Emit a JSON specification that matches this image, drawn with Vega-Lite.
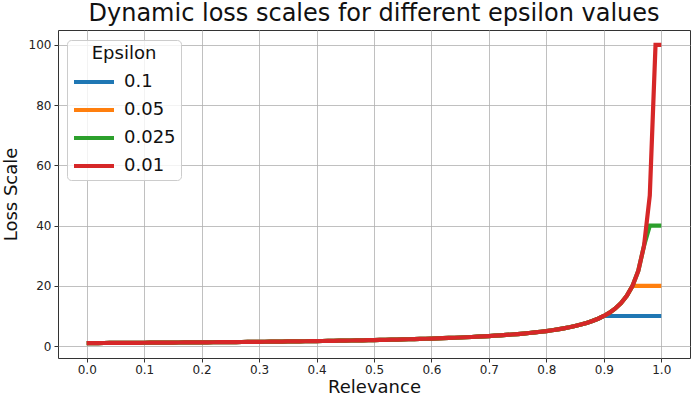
{
  "$schema": "https://vega.github.io/schema/vega-lite/v6.json",
  "width": 632,
  "height": 328,
  "autosize": {"type": "none"},
  "padding": {"left": 58, "top": 30, "right": 4, "bottom": 38},
  "background": "white",
  "config": {
    "font": "DejaVu Sans",
    "view": {"stroke": "#333333", "strokeWidth": 1}
  },
  "title": {
    "text": "Dynamic loss scales for different epsilon values",
    "fontSize": 24,
    "fontWeight": "normal",
    "font": "DejaVu Sans",
    "color": "#111111",
    "anchor": "middle",
    "offset": 4
  },
  "data": {
    "values": [
      {"x":0.00,"a":1,"b":1,"c":1,"d":1},
      {"x":0.01,"a":1.0101,"b":1.0101,"c":1.0101,"d":1.0101},
      {"x":0.02,"a":1.0204,"b":1.0204,"c":1.0204,"d":1.0204},
      {"x":0.03,"a":1.0309,"b":1.0309,"c":1.0309,"d":1.0309},
      {"x":0.04,"a":1.0417,"b":1.0417,"c":1.0417,"d":1.0417},
      {"x":0.05,"a":1.0526,"b":1.0526,"c":1.0526,"d":1.0526},
      {"x":0.06,"a":1.0638,"b":1.0638,"c":1.0638,"d":1.0638},
      {"x":0.07,"a":1.0753,"b":1.0753,"c":1.0753,"d":1.0753},
      {"x":0.08,"a":1.087,"b":1.087,"c":1.087,"d":1.087},
      {"x":0.09,"a":1.0989,"b":1.0989,"c":1.0989,"d":1.0989},
      {"x":0.10,"a":1.1111,"b":1.1111,"c":1.1111,"d":1.1111},
      {"x":0.11,"a":1.1236,"b":1.1236,"c":1.1236,"d":1.1236},
      {"x":0.12,"a":1.1364,"b":1.1364,"c":1.1364,"d":1.1364},
      {"x":0.13,"a":1.1494,"b":1.1494,"c":1.1494,"d":1.1494},
      {"x":0.14,"a":1.1628,"b":1.1628,"c":1.1628,"d":1.1628},
      {"x":0.15,"a":1.1765,"b":1.1765,"c":1.1765,"d":1.1765},
      {"x":0.16,"a":1.1905,"b":1.1905,"c":1.1905,"d":1.1905},
      {"x":0.17,"a":1.2048,"b":1.2048,"c":1.2048,"d":1.2048},
      {"x":0.18,"a":1.2195,"b":1.2195,"c":1.2195,"d":1.2195},
      {"x":0.19,"a":1.2346,"b":1.2346,"c":1.2346,"d":1.2346},
      {"x":0.20,"a":1.25,"b":1.25,"c":1.25,"d":1.25},
      {"x":0.21,"a":1.2658,"b":1.2658,"c":1.2658,"d":1.2658},
      {"x":0.22,"a":1.2821,"b":1.2821,"c":1.2821,"d":1.2821},
      {"x":0.23,"a":1.2987,"b":1.2987,"c":1.2987,"d":1.2987},
      {"x":0.24,"a":1.3158,"b":1.3158,"c":1.3158,"d":1.3158},
      {"x":0.25,"a":1.3333,"b":1.3333,"c":1.3333,"d":1.3333},
      {"x":0.26,"a":1.3514,"b":1.3514,"c":1.3514,"d":1.3514},
      {"x":0.27,"a":1.3699,"b":1.3699,"c":1.3699,"d":1.3699},
      {"x":0.28,"a":1.3889,"b":1.3889,"c":1.3889,"d":1.3889},
      {"x":0.29,"a":1.4085,"b":1.4085,"c":1.4085,"d":1.4085},
      {"x":0.30,"a":1.4286,"b":1.4286,"c":1.4286,"d":1.4286},
      {"x":0.31,"a":1.4493,"b":1.4493,"c":1.4493,"d":1.4493},
      {"x":0.32,"a":1.4706,"b":1.4706,"c":1.4706,"d":1.4706},
      {"x":0.33,"a":1.4925,"b":1.4925,"c":1.4925,"d":1.4925},
      {"x":0.34,"a":1.5152,"b":1.5152,"c":1.5152,"d":1.5152},
      {"x":0.35,"a":1.5385,"b":1.5385,"c":1.5385,"d":1.5385},
      {"x":0.36,"a":1.5625,"b":1.5625,"c":1.5625,"d":1.5625},
      {"x":0.37,"a":1.5873,"b":1.5873,"c":1.5873,"d":1.5873},
      {"x":0.38,"a":1.6129,"b":1.6129,"c":1.6129,"d":1.6129},
      {"x":0.39,"a":1.6393,"b":1.6393,"c":1.6393,"d":1.6393},
      {"x":0.40,"a":1.6667,"b":1.6667,"c":1.6667,"d":1.6667},
      {"x":0.41,"a":1.6949,"b":1.6949,"c":1.6949,"d":1.6949},
      {"x":0.42,"a":1.7241,"b":1.7241,"c":1.7241,"d":1.7241},
      {"x":0.43,"a":1.7544,"b":1.7544,"c":1.7544,"d":1.7544},
      {"x":0.44,"a":1.7857,"b":1.7857,"c":1.7857,"d":1.7857},
      {"x":0.45,"a":1.8182,"b":1.8182,"c":1.8182,"d":1.8182},
      {"x":0.46,"a":1.8519,"b":1.8519,"c":1.8519,"d":1.8519},
      {"x":0.47,"a":1.8868,"b":1.8868,"c":1.8868,"d":1.8868},
      {"x":0.48,"a":1.9231,"b":1.9231,"c":1.9231,"d":1.9231},
      {"x":0.49,"a":1.9608,"b":1.9608,"c":1.9608,"d":1.9608},
      {"x":0.50,"a":2,"b":2,"c":2,"d":2},
      {"x":0.51,"a":2.0408,"b":2.0408,"c":2.0408,"d":2.0408},
      {"x":0.52,"a":2.0833,"b":2.0833,"c":2.0833,"d":2.0833},
      {"x":0.53,"a":2.1277,"b":2.1277,"c":2.1277,"d":2.1277},
      {"x":0.54,"a":2.1739,"b":2.1739,"c":2.1739,"d":2.1739},
      {"x":0.55,"a":2.2222,"b":2.2222,"c":2.2222,"d":2.2222},
      {"x":0.56,"a":2.2727,"b":2.2727,"c":2.2727,"d":2.2727},
      {"x":0.57,"a":2.3256,"b":2.3256,"c":2.3256,"d":2.3256},
      {"x":0.58,"a":2.381,"b":2.381,"c":2.381,"d":2.381},
      {"x":0.59,"a":2.439,"b":2.439,"c":2.439,"d":2.439},
      {"x":0.60,"a":2.5,"b":2.5,"c":2.5,"d":2.5},
      {"x":0.61,"a":2.5641,"b":2.5641,"c":2.5641,"d":2.5641},
      {"x":0.62,"a":2.6316,"b":2.6316,"c":2.6316,"d":2.6316},
      {"x":0.63,"a":2.7027,"b":2.7027,"c":2.7027,"d":2.7027},
      {"x":0.64,"a":2.7778,"b":2.7778,"c":2.7778,"d":2.7778},
      {"x":0.65,"a":2.8571,"b":2.8571,"c":2.8571,"d":2.8571},
      {"x":0.66,"a":2.9412,"b":2.9412,"c":2.9412,"d":2.9412},
      {"x":0.67,"a":3.0303,"b":3.0303,"c":3.0303,"d":3.0303},
      {"x":0.68,"a":3.125,"b":3.125,"c":3.125,"d":3.125},
      {"x":0.69,"a":3.2258,"b":3.2258,"c":3.2258,"d":3.2258},
      {"x":0.70,"a":3.3333,"b":3.3333,"c":3.3333,"d":3.3333},
      {"x":0.71,"a":3.4483,"b":3.4483,"c":3.4483,"d":3.4483},
      {"x":0.72,"a":3.5714,"b":3.5714,"c":3.5714,"d":3.5714},
      {"x":0.73,"a":3.7037,"b":3.7037,"c":3.7037,"d":3.7037},
      {"x":0.74,"a":3.8462,"b":3.8462,"c":3.8462,"d":3.8462},
      {"x":0.75,"a":4,"b":4,"c":4,"d":4},
      {"x":0.76,"a":4.1667,"b":4.1667,"c":4.1667,"d":4.1667},
      {"x":0.77,"a":4.3478,"b":4.3478,"c":4.3478,"d":4.3478},
      {"x":0.78,"a":4.5455,"b":4.5455,"c":4.5455,"d":4.5455},
      {"x":0.79,"a":4.7619,"b":4.7619,"c":4.7619,"d":4.7619},
      {"x":0.80,"a":5,"b":5,"c":5,"d":5},
      {"x":0.81,"a":5.2632,"b":5.2632,"c":5.2632,"d":5.2632},
      {"x":0.82,"a":5.5556,"b":5.5556,"c":5.5556,"d":5.5556},
      {"x":0.83,"a":5.8824,"b":5.8824,"c":5.8824,"d":5.8824},
      {"x":0.84,"a":6.25,"b":6.25,"c":6.25,"d":6.25},
      {"x":0.85,"a":6.6667,"b":6.6667,"c":6.6667,"d":6.6667},
      {"x":0.86,"a":7.1429,"b":7.1429,"c":7.1429,"d":7.1429},
      {"x":0.87,"a":7.6923,"b":7.6923,"c":7.6923,"d":7.6923},
      {"x":0.88,"a":8.3333,"b":8.3333,"c":8.3333,"d":8.3333},
      {"x":0.89,"a":9.0909,"b":9.0909,"c":9.0909,"d":9.0909},
      {"x":0.90,"a":10,"b":10,"c":10,"d":10},
      {"x":0.91,"a":10,"b":11.111,"c":11.111,"d":11.111},
      {"x":0.92,"a":10,"b":12.5,"c":12.5,"d":12.5},
      {"x":0.93,"a":10,"b":14.286,"c":14.286,"d":14.286},
      {"x":0.94,"a":10,"b":16.667,"c":16.667,"d":16.667},
      {"x":0.95,"a":10,"b":20,"c":20,"d":20},
      {"x":0.96,"a":10,"b":20,"c":25,"d":25},
      {"x":0.97,"a":10,"b":20,"c":33.333,"d":33.333},
      {"x":0.98,"a":10,"b":20,"c":40,"d":50},
      {"x":0.99,"a":10,"b":20,"c":40,"d":100},
      {"x":1.00,"a":10,"b":20,"c":40,"d":100}
    ]
  },
  "transform": [
    {"fold": ["a", "b", "c", "d"], "as": ["eps", "y"]}
  ],
  "mark": {"type": "line", "strokeWidth": 4.2, "clip": true},
  "encoding": {
    "x": {
      "field": "x",
      "type": "quantitative",
      "scale": {"domain": [-0.05, 1.05], "nice": false, "zero": false},
      "axis": {
        "title": "Relevance",
        "values": [0, 0.1, 0.2, 0.3, 0.4, 0.5, 0.6, 0.7, 0.8, 0.9, 1.0],
        "format": ".1f",
        "labelFontSize": 12,
        "labelColor": "#222222",
        "titleFontSize": 18,
        "titleFontWeight": "normal",
        "titleColor": "#111111",
        "titlePadding": 3,
        "gridColor": "#b0b0b0",
        "gridWidth": 0.8,
        "tickColor": "#333333",
        "tickSize": 4,
        "labelPadding": 2,
        "domain": false
      }
    },
    "y": {
      "field": "y",
      "type": "quantitative",
      "scale": {"domain": [-3.95, 104.95], "nice": false, "zero": false},
      "axis": {
        "title": "Loss Scale",
        "values": [0, 20, 40, 60, 80, 100],
        "labelFontSize": 12,
        "labelColor": "#222222",
        "titleFontSize": 18,
        "titleFontWeight": "normal",
        "titleColor": "#111111",
        "titlePadding": 8,
        "gridColor": "#b0b0b0",
        "gridWidth": 0.8,
        "tickColor": "#333333",
        "tickSize": 4,
        "labelPadding": 3,
        "domain": false
      }
    },
    "color": {
      "field": "eps",
      "type": "nominal",
      "scale": {
        "domain": ["a", "b", "c", "d"],
        "range": ["#1f77b4", "#ff7f0e", "#2ca02c", "#d62728"]
      },
      "legend": {
        "title": "Epsilon",
        "labelExpr": "{'a':'0.1','b':'0.05','c':'0.025','d':'0.01'}[datum.value]",
        "orient": "none",
        "legendX": 9,
        "legendY": 10,
        "titleFontSize": 18,
        "titleFontWeight": "normal",
        "titleColor": "#111111",
        "titleAnchor": "middle",
        "titlePadding": 7,
        "labelFontSize": 18,
        "labelColor": "#111111",
        "labelOffset": 28,
        "symbolType": "M-1,0H3",
        "symbolStrokeWidth": 4,
        "symbolSize": 400,
        "rowPadding": 7,
        "padding": 5,
        "strokeColor": "#cccccc",
        "fillColor": "rgba(255,255,255,0.8)",
        "cornerRadius": 4
      }
    }
  }
}
